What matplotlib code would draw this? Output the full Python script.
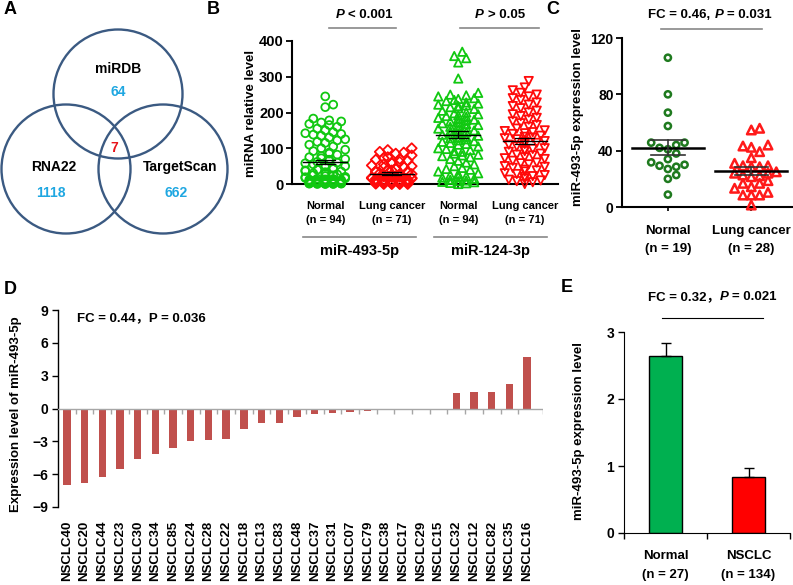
import numpy as np
import matplotlib.pyplot as plt
from matplotlib.patches import Circle
import matplotlib.transforms as mtransforms

plt.rcParams['font.family'] = ['Liberation Sans', 'Noto Sans CJK SC', 'DejaVu Sans']
plt.rcParams['font.weight'] = 'bold'
plt.rcParams['axes.labelweight'] = 'bold'

# ---------------- data ----------------
# A: Venn
venn_names = ['miRDB', 'RNA22', 'TargetScan']
venn_only = [64, 1118, 662]
venn_common = 7

# B: scatter, miR-493-5p and miR-124-3p
b_groups = ['Normal', 'Lung cancer', 'Normal', 'Lung cancer']
b_n = [94, 71, 94, 71]
b_mirs = ['miR-493-5p', 'miR-124-3p']
b_normal_493 = [245, 222, 215, 183, 178, 175, 172, 168, 165, 160, 155, 150, 145, 142, 140,
                138, 135, 130, 125, 122, 118, 115, 110, 105, 100, 96, 92, 88, 85, 82,
                78, 75, 72, 70, 68, 65, 62, 60, 58, 55, 52, 50, 48, 45, 42, 40, 38, 36, 35, 33,
                30, 28, 27, 25, 24, 22, 20, 19, 18, 17, 16, 15, 14, 13, 12, 11, 10, 10, 9, 8,
                8, 7, 7, 6, 6, 5, 5, 4, 4, 4, 3, 3, 3, 2, 2, 2, 2, 1, 1, 1, 1, 0, 0, 0]
b_cancer_493 = [100, 95, 90, 88, 85, 80, 75, 72, 70, 68, 65, 62, 60, 58, 55, 52, 50, 48, 46, 44,
                42, 40, 38, 36, 35, 33, 32, 30, 28, 27, 26, 25, 24, 22, 21, 20, 19, 18, 17, 16,
                15, 14, 13, 12, 11, 10, 10, 9, 8, 8, 7, 7, 6, 6, 5, 5, 4, 4, 3, 3,
                3, 2, 2, 2, 1, 1, 1, 0, 0, 0, 0]
b_normal_124 = [370, 358, 352, 340, 295, 255, 250, 248, 245, 240, 238, 235, 232, 228, 225, 222,
                220, 218, 215, 212, 210, 205, 200, 198, 195, 192, 190, 188, 185, 182, 180, 178,
                175, 172, 170, 168, 165, 162, 160, 158, 155, 152, 150, 148, 145, 142, 140, 138,
                135, 132, 130, 128, 125, 122, 120, 118, 115, 112, 110, 105, 100, 98, 95, 92, 90,
                85, 82, 80, 78, 75, 70, 65, 60, 55, 50, 45, 42, 40, 35, 30, 28, 25, 22, 20, 18,
                15, 12, 10, 8, 6, 5, 3, 2, 0]
b_cancer_124 = [288, 270, 262, 255, 250, 245, 240, 235, 228, 222, 218, 212, 205, 200, 195, 190,
                185, 180, 175, 170, 165, 160, 155, 150, 148, 145, 142, 140, 135, 132, 130, 128,
                125, 120, 118, 115, 112, 110, 105, 100, 98, 95, 92, 90, 85, 82, 80, 75, 72, 70,
                65, 60, 58, 55, 50, 48, 45, 40, 38, 35, 30, 28, 25, 22, 20, 15, 12, 10, 8, 5, 0]

# C: miR-493-5p, normal vs lung cancer
c_groups = ['Normal', 'Lung cancer']
c_n = [19, 28]
c_normal = [106, 80, 67, 57.5, 45.7, 44, 41, 38, 42, 45.7, 34, 30, 28.6, 29.3, 27, 31.7,
            22.7, 20, 8.8]
c_cancer = [54.7, 55.9, 44, 43.3, 42.4, 39.3, 35, 29.3, 28.6, 28.6, 29.3, 31, 18.7, 22.7,
            21.5, 25, 24, 22.2, 24, 13.3, 16.8, 16.8, 14.4, 8.5, 8.5, 8.5, 10.4, 1.4]

# D: per-sample expression
d_samples = ['NSCLC40', 'NSCLC20', 'NSCLC44', 'NSCLC23', 'NSCLC30', 'NSCLC34', 'NSCLC85',
             'NSCLC24', 'NSCLC28', 'NSCLC22', 'NSCLC18', 'NSCLC13', 'NSCLC83', 'NSCLC48',
             'NSCLC37', 'NSCLC31', 'NSCLC07', 'NSCLC79', 'NSCLC38', 'NSCLC17', 'NSCLC29',
             'NSCLC15', 'NSCLC32', 'NSCLC12', 'NSCLC82', 'NSCLC35', 'NSCLC16']
d_values = [-6.95, -6.8, -6.3, -5.5, -4.6, -4.2, -3.6, -3.0, -2.85, -2.75, -1.9, -1.3, -1.3,
            -0.82, -0.5, -0.4, -0.3, -0.2, -0.12, -0.1, -0.1, 0.0, 1.43, 1.52, 1.52, 2.2, 4.7]

# E: bar with SEM
e_groups = ['Normal', 'NSCLC']
e_n = [27, 134]
e_mean = [2.64, 0.84]
e_sem = [0.19, 0.13]

# ---------------- layout helpers ----------------
W, H = 793, 585
fig = plt.figure(figsize=(W / 100, H / 100), dpi=100)


def px_axes(x0, y0, x1, y1):
    return fig.add_axes([x0 / W, 1 - y1 / H, (x1 - x0) / W, (y1 - y0) / H])


def ftext(x, y, s, **kw):
    kw.setdefault('fontweight', 'bold')
    return fig.text(x / W, 1 - y / H, s, **kw)


def rich(xc, y, parts, size=10):
    """parts: (text, italic, gap after in em) -> centered line"""
    r = fig.canvas.get_renderer()
    objs, widths = [], []
    for s, it, g in parts:
        t = ftext(0, y, s, fontsize=size, style='italic' if it else 'normal',
                  ha='left', va='center')
        objs.append(t)
        widths.append(t.get_window_extent(r).width)
    em = size * 100 / 72
    total = sum(widths) + sum(g * em for _, _, g in parts[:-1])
    x = xc - total / 2
    for t, w, (_, _, g) in zip(objs, widths, parts):
        t.set_x(x / W)
        x += w + g * em


def swarm(values, xscale, yscale, diam, step, width):
    """deterministic beeswarm offsets (data units) for one group"""
    values = np.asarray(values, dtype=float)
    nmax = int(width / step)
    cands = [0.0] + [s * k * step for k in range(1, nmax + 1) for s in (1, -1)]
    placed = []
    offs = np.zeros(len(values))
    for i in np.argsort(values):
        y = values[i] * yscale
        best, bscore = 0.0, None
        for c in cands:
            x = c * xscale
            score = sum(1 for px, py in placed if (px - x) ** 2 + (py - y) ** 2 < diam ** 2)
            if bscore is None or score < bscore:
                best, bscore = c, score
            if score == 0:
                break
        offs[i] = best
        placed.append((best * xscale, y))
    return offs


# ---------------- A: Venn ----------------
axA = px_axes(0, 0, 250, 250)
axA.set_xlim(0, 250)
axA.set_ylim(250, 0)
axA.axis('off')
venn_centers = [(118, 94), (66, 169), (163, 169)]
for c in venn_centers:
    axA.add_patch(Circle(c, 64.5, fill=False, ec='#3B5A82', lw=1.7))
name_pos = [(118, 69), (54, 167), (180, 167)]
num_pos = [(118, 92), (51, 193), (176, 193)]
for nm, v, p, q in zip(venn_names, venn_only, name_pos, num_pos):
    axA.text(p[0], p[1], nm, ha='center', va='center', fontsize=10, fontweight='bold')
    axA.text(q[0], q[1], str(v), ha='center', va='center', fontsize=10,
             fontweight='bold', color='#1FA7E1')
axA.text(114, 148, str(venn_common), ha='center', va='center', fontsize=10,
         fontweight='bold', color='#E8141B')

# ---------------- B: scatter ----------------
axB = px_axes(292, 41, 558, 184)
b_data = [b_normal_493, b_cancer_493, b_normal_124, b_cancer_124]
b_markers = ['o', 'D', '^', 'v']
b_colors = ['#11C811', '#FF0A0A', '#11C811', '#FF0A0A']
b_sizes = [32, 26, 36, 36]
xs_B, ys_B = 266 / 4, 143 / 400
for i, (vals, mk, col, sz) in enumerate(zip(b_data, b_markers, b_colors, b_sizes)):
    off = swarm(vals, xs_B, ys_B, 6.5, 0.06, 0.3)
    axB.scatter(i + off, vals, marker=mk, s=sz, facecolors='none', edgecolors=col,
                linewidths=1.3, clip_on=False, zorder=3)
    m = np.mean(vals)
    se = np.std(vals, ddof=1) / np.sqrt(len(vals))
    axB.plot([i - 0.33, i + 0.33], [m, m], color='black', lw=1.0, zorder=4)
    axB.plot([i - 0.14, i + 0.14], [m + se, m + se], color='black', lw=0.9, zorder=4)
    axB.plot([i - 0.14, i + 0.14], [m - se, m - se], color='black', lw=0.9, zorder=4)
    axB.plot([i, i], [m - se, m + se], color='black', lw=0.9, zorder=4)
axB.set_xlim(-0.5, 3.5)
axB.set_ylim(0, 400)
axB.set_yticks([0, 100, 200, 300, 400])
axB.set_xticks(range(4))
axB.set_xticklabels([f'{g}\n(n = {n})' for g, n in zip(b_groups, b_n)], fontsize=8)
for lbl in axB.get_xticklabels():
    lbl.set_linespacing(1.5)
axB.tick_params(axis='y', labelsize=10.5, length=4, width=1.3, pad=2)
axB.tick_params(axis='x', length=3, width=1.2, pad=9)
for s in ['top', 'right']:
    axB.spines[s].set_visible(False)
for s in ['left', 'bottom']:
    axB.spines[s].set_linewidth(1.5)
trB = mtransforms.blended_transform_factory(axB.transData, axB.transAxes)
for (x0, x1), lab in zip([(-0.33, 1.36), (1.64, 3.34)], b_mirs):
    axB.plot([x0, x1], [-0.37, -0.37], transform=trB, color='#888888', lw=1.2, clip_on=False)
    axB.text((x0 + x1) / 2, -0.47, lab, transform=trB, ha='center', va='center',
             fontsize=10.5, fontweight='bold')
for x0, x1 in [(0.06, 1.07), (2.03, 3.22)]:
    axB.plot([x0, x1], [1.09, 1.09], transform=trB, color='#888888', lw=1.2, clip_on=False)
ftext(251, 113, 'miRNA relative level', fontsize=9.5, rotation=90, ha='center', va='center')
rich(364, 15, [('P', True, 0.28), ('< 0.001', False, 0)], size=9.5)
rich(500, 15, [('P', True, 0.28), ('> 0.05', False, 0)], size=9.5)

# ---------------- C: scatter ----------------
axC = px_axes(622, 38, 793, 207)
c_data = [c_normal, c_cancer]
c_markers = ['o', '^']
c_colors = ['#1F7A1F', '#FF1A1A']
c_sizes = [20, 38]
xs_C, ys_C = 171 / 2.05, 169 / 120
for i, (vals, mk, col, sz) in enumerate(zip(c_data, c_markers, c_colors, c_sizes)):
    off = swarm(vals, xs_C, ys_C, 7.0, 0.1, 0.35)
    axC.scatter(i + off, vals, marker=mk, s=sz, facecolors='none', edgecolors=col,
                linewidths=1.8, clip_on=False, zorder=3)
    m = np.mean(vals)
    se = np.std(vals, ddof=1) / np.sqrt(len(vals))
    axC.plot([i - 0.43, i + 0.43], [m, m], color='black', lw=1.8, zorder=4)
    axC.plot([i - 0.2, i + 0.2], [m + se, m + se], color='#333333', lw=1.2, zorder=4)
    axC.plot([i - 0.2, i + 0.2], [m - se, m - se], color='#333333', lw=1.2, zorder=4)
    axC.plot([i, i], [m - se, m + se], color='#333333', lw=1.2, zorder=4)
axC.set_xlim(-0.55, 1.5)
axC.set_ylim(0, 120)
axC.set_yticks([0, 40, 80, 120])
axC.set_xticks(range(2))
axC.set_xticklabels([f'{g}\n(n = {n})' for g, n in zip(c_groups, c_n)], fontsize=9.5)
for lbl in axC.get_xticklabels():
    lbl.set_linespacing(1.7)
axC.tick_params(axis='y', labelsize=10, length=4, width=1.3, pad=2)
axC.tick_params(axis='x', length=3, width=1.2, pad=10)
for s in ['top', 'right']:
    axC.spines[s].set_visible(False)
for s in ['left', 'bottom']:
    axC.spines[s].set_linewidth(1.5)
trC = mtransforms.blended_transform_factory(axC.transData, axC.transAxes)
axC.plot([-0.08, 1.13], [1.053, 1.053], transform=trC, color='#888888', lw=1.2, clip_on=False)
ftext(578, 117, 'miR-493-5p expression level', fontsize=9.5, rotation=90,
      ha='center', va='center')
rich(710, 15, [('FC = 0.46,', False, 0.28), ('P', True, 0.28), ('= 0.031', False, 0)],
     size=9.5)

# ---------------- D: bars ----------------
axD = px_axes(58, 310, 543, 507)
xd = np.arange(len(d_samples))
axD.bar(xd, d_values, width=0.42, color='#C0504D', zorder=2)
axD.axhline(0, color='#A6A6A6', lw=1.0, zorder=3)
axD.vlines(xd[:-1] + 0.5, -0.5, 0, color='#A6A6A6', lw=1.0, zorder=3)
axD.vlines([len(d_samples) - 0.5 + 0.4], -0.5, 0, color='#A6A6A6', lw=1.0, zorder=3)
axD.set_xlim(-0.5, len(d_samples) - 0.1)
axD.set_ylim(-9, 9)
axD.set_yticks(np.arange(-9, 10, 3))
axD.set_xticks(xd)
axD.set_xticklabels(d_samples, rotation=90, fontsize=9.5)
axD.tick_params(axis='x', length=0, pad=10)
axD.tick_params(axis='y', labelsize=10, length=4, width=1.0, pad=3)
for s in ['top', 'right', 'bottom']:
    axD.spines[s].set_visible(False)
axD.spines['left'].set_linewidth(1.0)
ftext(16, 414, 'Expression level of miR-493-5p', fontsize=9.5, rotation=90,
      ha='center', va='center')
ftext(77, 318, 'FC = 0.44，P = 0.036', fontsize=9.5, ha='left', va='center')

# ---------------- E: bars ----------------
axE = px_axes(624, 332, 790, 533)
xe = np.arange(len(e_groups))
axE.bar(xe, e_mean, width=0.4, color=['#00B050', '#FF0000'], edgecolor='black', lw=1.0,
        zorder=2)
axE.errorbar(xe, e_mean, yerr=[[0] * len(e_sem), e_sem], fmt='none', ecolor='black',
             elinewidth=1.0, capsize=3.5, capthick=1.0, zorder=3)
axE.set_xlim(-0.5, 1.5)
axE.set_ylim(0, 3)
axE.set_yticks([0, 1, 2, 3])
axE.set_xticks(xe)
axE.set_xticklabels([f'{g}\n(n = {n})' for g, n in zip(e_groups, e_n)], fontsize=9.5)
for lbl in axE.get_xticklabels():
    lbl.set_linespacing(1.8)
axE.set_xticks([-0.5, 0.5, 1.5], minor=True)
axE.tick_params(axis='x', which='major', length=0, pad=12)
axE.tick_params(axis='x', which='minor', length=4, width=1.0)
axE.tick_params(axis='y', labelsize=10, length=4, width=1.0, pad=3)
for s in ['top', 'right']:
    axE.spines[s].set_visible(False)
trE = mtransforms.blended_transform_factory(axE.transData, axE.transAxes)
axE.plot([-0.04, 1.17], [1.07, 1.07], transform=trE, color='black', lw=0.8, clip_on=False)
ftext(579, 431, 'miR-493-5p expression level', fontsize=9.5, rotation=90,
      ha='center', va='center')
rich(712, 297, [('FC = 0.32，', False, 0.0), ('P', True, 0.28), ('= 0.021', False, 0)],
     size=9.5)

# panel letters
for lab, (x, y) in zip('ABCDE', [(10, 10), (213, 10), (553, 10), (10, 290), (567, 287)]):
    ftext(x, y, lab, fontsize=13, ha='center', va='center')

fig.savefig('out.png', dpi=100)
